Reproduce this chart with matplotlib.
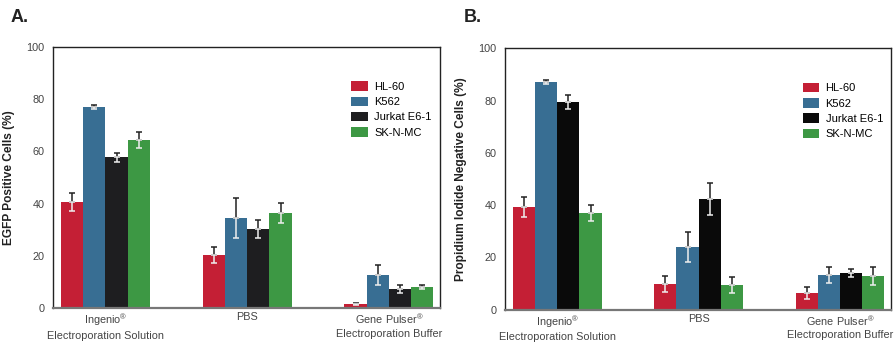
import numpy as np
import matplotlib
matplotlib.use("Agg")
import matplotlib.pyplot as plt

plt.rcParams['font.family'] = ['Liberation Sans', 'DejaVu Sans']

conditions = ['$\\mathregular{Ingenio^{®}}$\nElectroporation Solution', 'PBS',
              '$\\mathregular{Gene\\ Pulser^{®}}$\nElectroporation Buffer']
cell_lines = ['HL-60', 'K562', 'Jurkat E6-1', 'SK-N-MC']

# panel A: EGFP positive cells (%), rows = cell lines, cols = conditions
egfp = [[40.6, 20.3, 1.5],
        [77.0, 34.5, 12.6],
        [57.7, 30.3, 7.3],
        [64.4, 36.4, 8.0]]
egfp_err = [[3.6, 2.9, 0.5],
            [0.7, 7.8, 3.8],
            [1.7, 3.6, 1.5],
            [3.0, 3.7, 0.8]]

# panel B: propidium iodide negative cells (%)
pi_neg = [[39.3, 9.8, 6.4],
          [87.1, 24.0, 13.3],
          [79.5, 42.3, 14.0],
          [37.0, 9.4, 12.9]]
pi_err = [[3.7, 3.0, 2.4],
          [0.9, 5.9, 3.2],
          [2.7, 6.1, 1.5],
          [3.0, 3.0, 3.3]]

colors_a = ['#C41F35', '#386E93', '#1E1E20', '#3D9844']
colors_b = ['#C41F35', '#386E93', '#0A0A0A', '#3D9844']

fig = plt.figure(figsize=(8.95, 3.43), dpi=100)
ax_a = fig.add_axes([0.0592, 0.102, 0.4324, 0.761])
ax_b = fig.add_axes([0.5642, 0.097, 0.4313, 0.762])


def draw(ax, vals, errs, colors, ylabel):
    x = np.arange(len(conditions))
    w = 0.157
    for i, name in enumerate(cell_lines):
        xs = x + (i - 1.5) * w
        ax.bar(xs, vals[i], width=w, color=colors[i], label=name, zorder=2)
        # upper half of error bar dark, lower half (inside bar) light
        ax.errorbar(xs, vals[i], yerr=[np.zeros(3), errs[i]], fmt='none',
                    ecolor='#222222', elinewidth=1.1, capsize=2.3, capthick=1.1, zorder=3)
        ax.errorbar(xs, vals[i], yerr=[errs[i], np.zeros(3)], fmt='none',
                    ecolor='#EEEEEE', elinewidth=1.1, capsize=2.3, capthick=1.1, zorder=3)
    ax.set_xlim(-0.37, 2.36)
    ax.set_ylim(0, 100)
    ax.set_yticks([0, 20, 40, 60, 80, 100])
    ax.set_xticks(x)
    ax.set_xticklabels(conditions, fontsize=7.8, color='#333333', linespacing=1.3)
    ax.get_xticklabels()[0].set_color('#C8203A')
    ax.tick_params(axis='both', length=0, colors='#444444')
    ax.tick_params(axis='y', pad=6, labelsize=7.8)
    ax.tick_params(axis='x', pad=3)
    for s in ['left', 'top', 'right']:
        ax.spines[s].set_color('#222222')
        ax.spines[s].set_linewidth(1.0)
    ax.spines['bottom'].set_color('#777777')
    ax.spines['bottom'].set_linewidth(1.6)
    ax.set_ylabel(ylabel, fontsize=8.6, fontweight='bold', color='#222222', labelpad=8)
    ax.legend(loc='upper left', bbox_to_anchor=(0.757, 0.89), frameon=False,
              handlelength=1.45, handleheight=0.95, handletextpad=0.6,
              labelspacing=0.42, borderpad=0, prop={'size': 8})


draw(ax_a, egfp, egfp_err, colors_a, 'EGFP Positive Cells (%)')
draw(ax_b, pi_neg, pi_err, colors_b, 'Propidium Iodide Negative Cells (%)')

fig.text(0.012, 0.935, 'A.', fontsize=13, fontweight='bold', color='#222222')
fig.text(0.518, 0.935, 'B.', fontsize=13, fontweight='bold', color='#222222')

fig.savefig('out.png', dpi=100)
